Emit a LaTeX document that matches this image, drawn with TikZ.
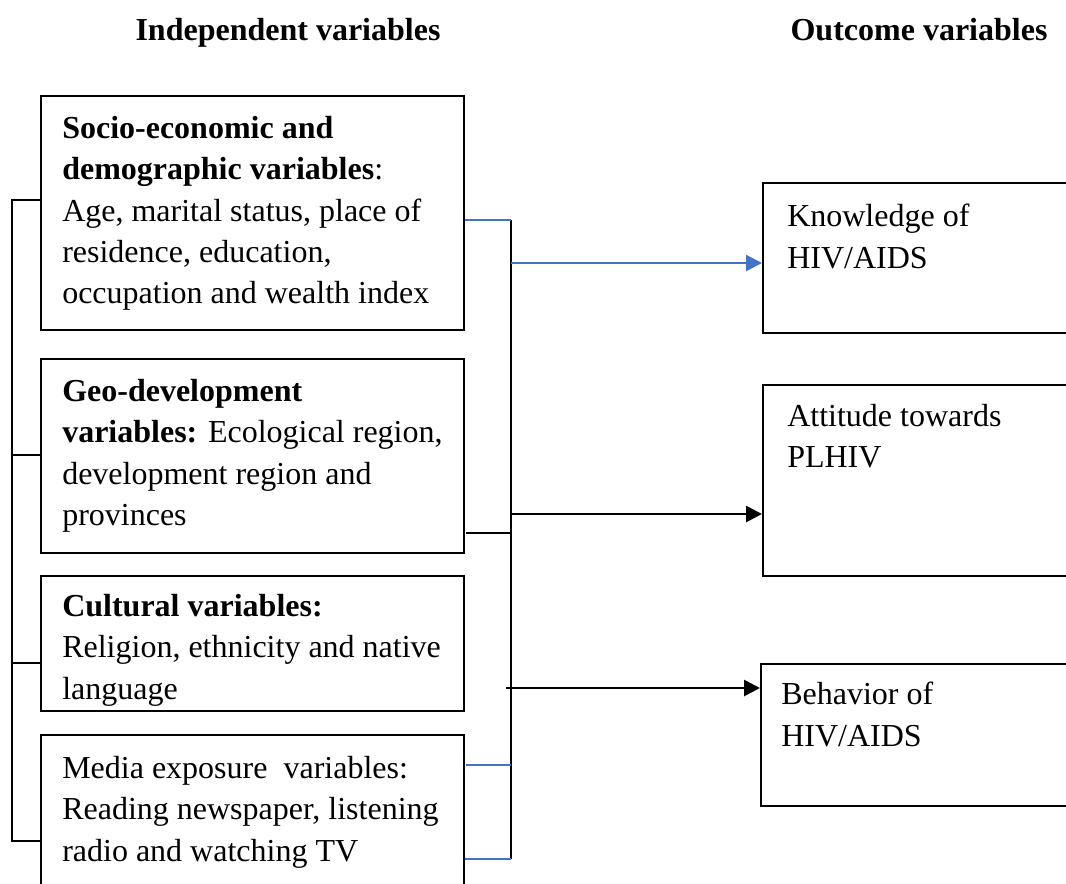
\documentclass[tikz,border=0pt]{standalone}
\usepackage{fontspec}
\setmainfont{Liberation Serif}
\usetikzlibrary{arrows.meta}
\definecolor{linkblue}{RGB}{68,114,196}
\tikzset{
  varbox/.style 2 args={draw, line width=1.3pt, inner sep=0pt, anchor=north west,
    minimum width=#1*0.75pt, minimum height=#2*0.75pt},
  vartext/.style={anchor=north west, inner sep=0pt, align=left, font=\fontsize{24}{31}\selectfont},
  heading/.style={anchor=base, inner sep=0pt, font=\fontsize{24}{31}\selectfont\bfseries},
  bus/.style={line width=1.1pt},
  bluelink/.style={color=linkblue, line width=1.5pt},
  blackarrow/.style={line width=2pt, -{Triangle[length=12pt,width=12pt]}},
  bluearrow/.style={color=linkblue, line width=1.7pt, -{Triangle[length=12pt,width=12pt]}}
}
\begin{document}
\begin{tikzpicture}[x=0.75pt,y=0.75pt,yscale=-1,xscale=1]
\path[use as bounding box] (0,0) rectangle (1066,883);
\clip (0,0) rectangle (1066,883);

% Text Node
\node[heading] (indep) at (288,40) {Independent variables};
% Text Node
\node[heading] (outc) at (919,40) {Outcome variables};

%Shape: Rectangle
\node[varbox={423}{234}] (socio) at (40,95) {};
\node[varbox={423}{194}] (geo) at (40,358) {};
\node[varbox={423}{135}] (cult) at (40,575) {};
\node[varbox={423}{170}] (media) at (40,734) {};
\node[varbox={320}{150}] (know) at (762,182) {};
\node[varbox={320}{191}] (attit) at (762,384) {};
\node[varbox={322}{142}] (behav) at (760,663) {};

% Text Node
\node[vartext] (socio-t) at (62,116) {\textbf{Socio-economic and}\\\textbf{demographic variables}:\\Age, marital status, place of\\residence, education,\\occupation and wealth index};
% Text Node
\node[vartext] (geo-t) at (62,379) {\textbf{Geo-development}\\\textbf{variables:} Ecological region,\\development region and\\provinces};
% Text Node
\node[vartext] (cult-t) at (62,594) {\textbf{Cultural variables:}\\Religion, ethnicity and native\\language};
% Text Node
\node[vartext] (media-t) at (62,756) {Media exposure\ \ variables:\\Reading newspaper, listening\\radio and watching TV};
% Text Node
\node[vartext] (know-t) at (787,204) {Knowledge of\\HIV/AIDS};
% Text Node
\node[vartext] (attit-t) at (787,404) {Attitude towards\\PLHIV};
% Text Node
\node[vartext] (behav-t) at (781,682) {Behavior of\\HIV/AIDS};

%Straight Lines
\coordinate (brk-top) at (12,200);
\coordinate (brk-bot) at (12,841);
\draw[bus] (socio.west |- brk-top) -- (brk-top) -- (brk-bot) -- (media.west |- brk-bot);
\draw[bus] (brk-top |- 0,455) -- (geo.west |- 0,455);
\draw[bus] (brk-top |- 0,663) -- (cult.west |- 0,663);

%Straight Lines
\coordinate (bus-top) at (511,220);
\coordinate (bus-bot) at (511,859);
\draw[bus] (bus-top) -- (bus-bot);
\draw[bluelink] (socio.east |- bus-top) -- (bus-top);
\coordinate (geo-out) at (466,533);
\draw[bus, line width=1.4pt] (geo-out) -- (bus-top |- geo-out);
\coordinate (media-out) at (466,765);
\draw[bluelink] (media-out) -- (bus-top |- media-out);
\draw[bluelink] (media.east |- bus-bot) -- (bus-bot);

%Straight Lines
\draw[bluearrow] (bus-top |- 0,263) -- (know.west |- 0,263);
\draw[blackarrow] (bus-top |- 0,514) -- (attit.west |- 0,514);
\coordinate (beh-in) at (506,688);
\draw[blackarrow] (beh-in) -- (behav.west |- beh-in);

\end{tikzpicture}
\end{document}
